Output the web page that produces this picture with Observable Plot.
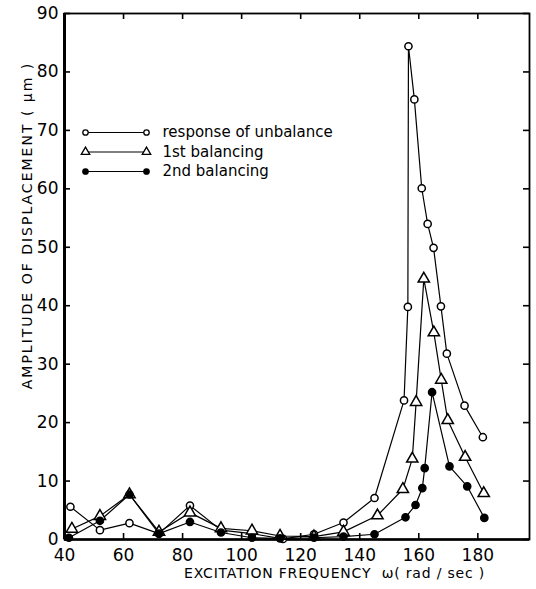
<!DOCTYPE html>
<html><head><meta charset="utf-8">
<script src="https://cdn.jsdelivr.net/npm/d3@7"></script>
<script src="https://cdn.jsdelivr.net/npm/@observablehq/plot@0.6"></script>
<style>body{margin:0;background:#fff}</style>
</head><body><div id="chart"></div>
<script>
// Data
const xUnbal = [42, 52, 62, 72, 82.5, 93, 103.5, 114, 124.5, 134.5, 145, 155, 156.3, 156.5, 158.5, 161, 163, 165, 167.5, 169.5, 175.5, 181.7];
const yUnbal = [5.6, 1.6, 2.8, 1.0, 5.8, 1.6, 1.0, 0.1, 0.9, 2.9, 7.1, 23.8, 39.8, 84.4, 75.3, 60.1, 54.0, 49.9, 39.9, 31.8, 22.9, 17.5];
const xFirst = [42.5, 52, 62, 72, 82.5, 93, 103.5, 113, 124.5, 134.5, 146, 154.6, 157.8, 159.1, 161.7, 165.1, 167.6, 169.8, 175.7, 182];
const yFirst = [1.8, 4.0, 7.7, 1.3, 4.6, 1.9, 1.5, 0.6, 0.5, 1.3, 4.1, 8.6, 13.8, 23.5, 44.6, 35.4, 27.3, 20.4, 14.1, 7.9];
const xSecond = [41.5, 52, 62, 72, 82.5, 93, 103.5, 113, 124.5, 134.5, 145, 155.5, 158.9, 161.2, 162, 164.5, 170.4, 176.4, 182.2];
const ySecond = [0.3, 3.2, 7.7, 1.0, 3.0, 1.2, 0.3, 0.2, 0.3, 0.5, 0.9, 3.8, 5.9, 8.8, 12.2, 25.2, 12.5, 9.1, 3.7];
const seriesNames = ["response of unbalance", "1st balancing", "2nd balancing"];
const xTicks = [40, 60, 80, 100, 120, 140, 160, 180];
const yTicks = [0, 10, 20, 30, 40, 50, 60, 70, 80, 90];
const xTitle = "EXCITATION FREQUENCY  ω( rad / sec )";
const yTitle = "AMPLITUDE OF DISPLACEMENT ( μm )";

const rows = (xs, ys, s) => xs.map((x, i) => ({x, y: ys[i], s}));
const unbal = rows(xUnbal, yUnbal, seriesNames[0]);
const first = rows(xFirst, yFirst, seriesNames[1]);
const second = rows(xSecond, ySecond, seriesNames[2]);
const all = [...unbal, ...first, ...second];

const W = 536, H = 589, ML = 64, MR = 7, MT = 13, MB = 50;
const X0 = 40, X1 = 197.5, Y0 = 0, Y1 = 90;
const kx = (W - ML - MR) / (X1 - X0), ky = (H - MT - MB) / (Y1 - Y0);
const px2x = p => p / kx, px2y = p => p / ky;
const tickLen = 6;

const legend = seriesNames.map((s, i) => ({s, y: Y1 - px2y(119 + i * 19.5), i}));
const lx1 = X0 + px2x(21), lx2 = X0 + px2x(82), ltx = X0 + px2x(98);

const font = "'DejaVu Sans', sans-serif";
const dotStyle = [
  {fill: "white", stroke: "black", symbol: "circle", r: 3.6},
  {fill: "white", stroke: "black", symbol: "triangle", r: 4.2},
  {fill: "black", stroke: "black", symbol: "circle", r: 3.6}
];
const sets = [unbal, first, second];

const plot = Plot.plot({
  width: W, height: H, marginLeft: ML, marginRight: MR, marginTop: MT, marginBottom: MB,
  style: {fontFamily: font, fontSize: "17px", background: "white", color: "black", overflow: "visible"},
  x: {domain: [X0, X1]},
  y: {domain: [Y0, Y1]},
  marks: [
    Plot.frame({stroke: "black", strokeWidth: 1.8}),
    Plot.ruleX([X0], {stroke: "black", strokeWidth: 3}),
    Plot.ruleY([Y0], {stroke: "black", strokeWidth: 2.5}),
    // inward ticks
    Plot.ruleY(yTicks, {y: d => d, x1: X0, x2: X0 + px2x(tickLen), strokeWidth: 1.6}),
    Plot.ruleY(yTicks, {y: d => d, x1: X1, x2: X1 - px2x(tickLen), strokeWidth: 1.6}),
    Plot.ruleX(xTicks, {x: d => d, y1: Y0, y2: Y0 + px2y(tickLen), strokeWidth: 1.6}),
    Plot.ruleX(xTicks, {x: d => d, y1: Y1, y2: Y1 - px2y(tickLen), strokeWidth: 1.6}),
    Plot.axisX({ticks: xTicks, tickSize: 0, tickPadding: 9, label: null, fontSize: 17}),
    Plot.axisY({ticks: yTicks, tickSize: 0, tickPadding: 6, label: null, fontSize: 17}),
    Plot.line(all, {x: "x", y: "y", z: "s", stroke: "black", strokeWidth: 1.2}),
    ...sets.map((d, i) => Plot.dot(d, {x: "x", y: "y", ...dotStyle[i], strokeWidth: 1.5})),
    // legend
    Plot.link(legend, {x1: lx1, x2: lx2, y1: "y", y2: "y", stroke: "black", strokeWidth: 1.2}),
    ...[lx1, lx2].map(lx => legend.map((d) => Plot.dot([d], {x: lx, y: "y", ...dotStyle[d.i], r: dotStyle[d.i].r * 0.75, strokeWidth: 1.3}))).flat(),
    Plot.text(legend, {x: ltx, y: "y", text: "s", textAnchor: "start", fontSize: 15}),
    // axis titles
    Plot.text([xTitle], {frameAnchor: "bottom", x: X0 + px2x(270), dy: 38, fontSize: 14, text: d => d, textAnchor: "middle"}),
    Plot.text([yTitle], {frameAnchor: "left", y: Y1 - px2y(212), dx: -37, rotate: -90, fontSize: 14, text: d => d, textAnchor: "middle"})
  ]
});
d3.select(plot).selectAll("text").filter(function () { return this.textContent === xTitle; }).attr("letter-spacing", 0.8);
d3.select(plot).selectAll("text").filter(function () { return this.textContent === yTitle; }).attr("letter-spacing", 2);
document.getElementById("chart").append(plot);
</script>
</body></html>
